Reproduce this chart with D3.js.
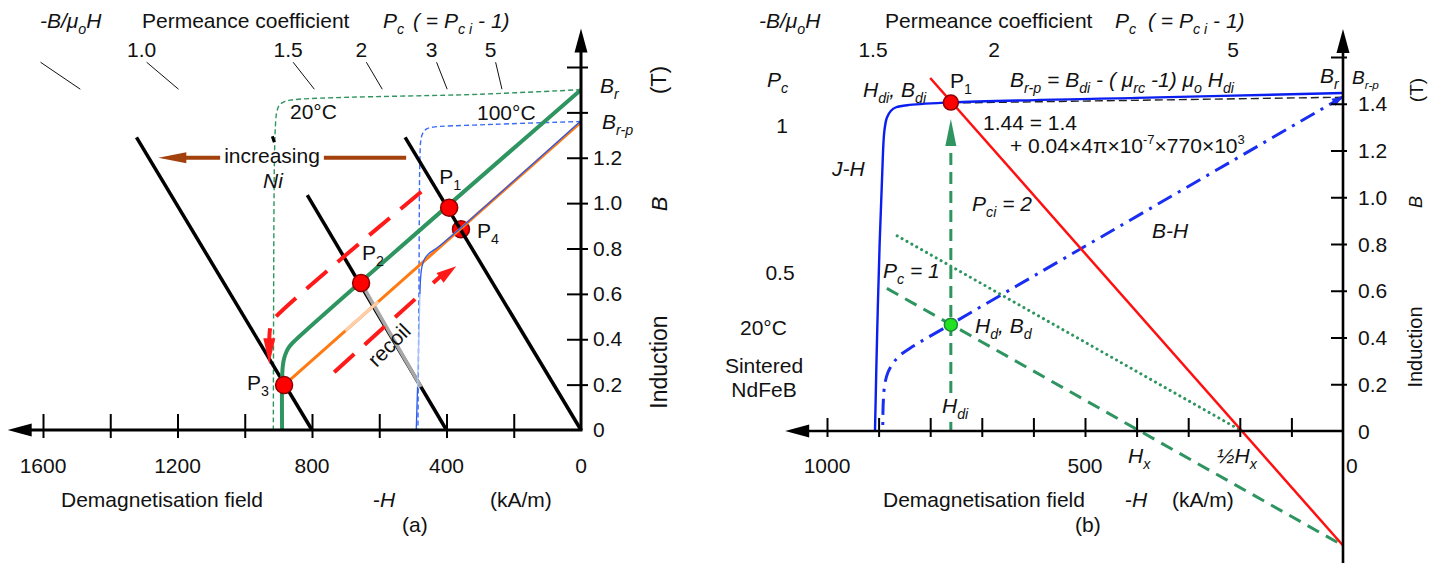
<!DOCTYPE html>
<html>
<head>
<meta charset="utf-8">
<script src="https://cdn.jsdelivr.net/npm/d3@7"></script>
<style>
  body { margin: 0; background: #fff; }
  svg text { font-family: "Liberation Sans", Arial, Helvetica, sans-serif; fill: #111; white-space: pre; }
</style>
</head>
<body>
<svg id="fig" width="1437" height="563"></svg>
<script>
// ---------------- Panel (a): demagnetisation curves, 20 °C and 100 °C ----------------
// all curve points are [ -H (kA/m), B (T) ]
const loadLinesA = [
  [[0, 0], [523, 1.29]],
  [[400, 0], [814, 1.035]],
  [[800, 0], [1322, 1.29]]
];
const recoilGreyA = [[654, 0.648], [476, 0.19]];
const tickMarkA = [[918, 1.295], [912, 1.268]];
const jh20 = [[0, 1.50], [300, 1.48], [865, 1.454], [885, 1.445], [898, 1.43], [905, 1.40], [908, 1.36], [911, 1.25], [913, 1.0], [915, 0]];
const bh20 = [[0, 1.50], [850, 0.395], [866, 0.37], [876, 0.345], [883, 0.315], [887, 0.28], [889, 0.22], [889, 0]];
const jh100 = [[0, 1.36], [300, 1.345], [440, 1.335], [458, 1.328], [470, 1.31], [476, 1.28], [479, 1.2], [482, 0.6], [485, 0]];
const bh100 = [[0, 1.357], [883, 0.198]];
const bh100Pale = [[701, 0.437], [603, 0.566]];
const minorLoopLow = [[490, 0], [486, 0.19]];
const minorLoopPale = [[486, 0.19], [479, 0.6]];
const minorLoopHigh = [[479, 0.6], [477, 0.67], [473, 0.72], [465, 0.755], [452, 0.778], [420, 0.812], [0, 1.363]];
const demagPath = [[475, 1.05], [913, 0.49], [922, 0.465], [926, 0.43], [927, 0.395]];
const demagTip = [927, 0.29];
const recoilPath = [[734, 0.255], [470, 0.608]];
const recoilHead = [[440, 0.648], [371, 0.722]];
const niArrow = [[520, 1.2], [1257, 1.2]];
const pointsA = [
  { name: "1", H: 392, B: 0.98 },
  { name: "2", H: 654, B: 0.648 },
  { name: "3", H: 883, B: 0.198 },
  { name: "4", H: 357, B: 0.885 }
];
const pcValuesA = [0.8, 1.0, 1.5, 2, 3, 5];
const pcLabelsA = ["", "1.0", "1.5", "2", "3", "5"];
const pcFootH = [1489, 1197, 793, 591, 398, 235];
const pcFootB = 1.502;
const pcRise = 0.119;
const xTicksA = [200, 400, 600, 800, 1000, 1200, 1400, 1600];
const xLabelsA = [0, 400, 800, 1200, 1600];
const yTicksA = [0.2, 0.4, 0.6, 0.8, 1.0, 1.2, 1.4, 1.6];
const yLabelsA = ["0", "0.2", "0.4", "0.6", "0.8", "1.0", "1.2"];

// ---------------- Panel (b): sintered NdFeB at 20 °C ----------------
const jhB = [[0, 1.446], [400, 1.425], [758, 1.406], [840, 1.395], [866, 1.385], [876, 1.37], [884, 1.34], [889, 1.28], [893, 1.1], [898, 0.8], [903, 0.4], [907, 0]];
const bhB = [[0, 1.43], [763, 0.453], [835, 0.36], [858, 0.325], [872, 0.29], [882, 0.25], [888, 0.2], [891, 0.12], [892, 0]];
const recoilB = [[760, 1.403], [0, 1.428]];
const pci2Line = [[800, 1.51], [0, -0.49]];
const pc1Line = [[884, 0.61], [0, -0.49]];
const pc1Shifted = [[864, 0.835], [196, 0]];
const Hdi = 760;
const hdiArrow = [[Hdi, 0], [Hdi, 1.22]];
const hdiTip = [Hdi, 1.335];
const P1b = [Hdi, 1.405];
const dPointB = [Hdi, 0.455];
const xTicksB = [100, 200, 300, 400, 500, 600, 700, 800, 900, 1000];
const xLabelsB = [1000, 500];
const yTicksB = [0.2, 0.4, 0.6, 0.8, 1.0, 1.2, 1.4, 1.6];
const yLabelsB = ["0", "0.2", "0.4", "0.6", "0.8", "1.0", "1.2", "1.4"];
const pcLabelsB = ["1.5", "2", "5"];
const pcSideLabelsB = ["1", "0.5"];

// ---------------- scales ----------------
const xA = d3.scaleLinear([0, 1600], [581, 43]);
const yA = d3.scaleLinear([0, 1.6], [430, 67]);
const xB = d3.scaleLinear([0, 1000], [1343, 827]);
const yB = d3.scaleLinear([0, 1.6], [431, 57]);

const svg = d3.select("#fig");
const FS = 21;

function path(g, data, xs, ys, style, curve) {
  const gen = d3.line().x(d => xs(d[0])).y(d => ys(d[1])).curve(curve || d3.curveLinear);
  const p = g.append("path").attr("d", gen(data)).attr("fill", "none");
  Object.entries(style).forEach(([k, v]) => p.attr(k, v));
  return p;
}

function tri(g, from, tip, len, hw, fill) {
  const dx = tip[0] - from[0], dy = tip[1] - from[1];
  const L = Math.hypot(dx, dy), ux = dx / L, uy = dy / L;
  const bx = tip[0] - ux * len, by = tip[1] - uy * len;
  const nx = -uy, ny = ux;
  g.append("path")
    .attr("d", `M${tip[0]},${tip[1]}L${bx + nx * hw},${by + ny * hw}L${bx - nx * hw},${by - ny * hw}Z`)
    .attr("fill", fill);
}

function rich(g, x, y, parts, o = {}) {
  const size = o.size || FS;
  const t = g.append("text").attr("x", x).attr("y", y).attr("font-size", size)
    .attr("text-anchor", o.anchor || "start");
  if (o.italic) t.attr("font-style", "italic");
  if (o.rotate != null) t.attr("transform", `rotate(${o.rotate},${x},${y})`);
  if (o.dy) t.attr("dy", o.dy);
  const subScale = o.subScale || 0.68;
  let shift = 0;
  parts.forEach(p => {
    if (typeof p === "string") p = { t: p };
    const s = t.append("tspan").text(p.t);
    let target = 0, fs = size;
    if (p.sub) { target = size * 0.28; fs = size * subScale; }
    if (p.sup) { target = -size * 0.42; fs = size * 0.62; }
    if (target - shift !== 0) s.attr("dy", target - shift);
    shift = target;
    if (fs !== size) s.attr("font-size", fs);
    if (p.i) s.attr("font-style", "italic");
    if (p.n) s.attr("font-style", "normal");
  });
  return t;
}

function axes(xs, ys, xTicks, yTicks, o) {
  const g = svg.append("g");
  const y0 = ys(0), x0 = xs(0);
  // x ticks (crossing the axis line)
  const gx = g.append("g").attr("transform", `translate(0,${y0})`)
    .call(d3.axisBottom(xs).tickValues(xTicks).tickFormat("").tickSizeInner(o.xDown).tickSizeOuter(0));
  gx.select(".domain").remove();
  gx.selectAll(".tick line").attr("y1", -o.xUp).attr("stroke", "#000").attr("stroke-width", 2);
  // y ticks
  const gy = g.append("g").attr("transform", `translate(${x0},0)`)
    .call(d3.axisRight(ys).tickValues(yTicks).tickFormat("").tickSizeInner(o.yOut).tickSizeOuter(0));
  gy.select(".domain").remove();
  gy.selectAll(".tick line").attr("x1", -o.yIn).attr("stroke", "#000").attr("stroke-width", 2);
  // axis lines with arrow heads
  const xt = xs(o.xTip), yt = ys(o.yTip);
  g.append("line").attr("x1", xt + 20).attr("x2", x0 + o.xExtra).attr("y1", y0).attr("y2", y0)
    .attr("stroke", "#000").attr("stroke-width", o.w);
  g.append("line").attr("x1", x0).attr("x2", x0).attr("y1", ys(o.yBottom)).attr("y2", yt + 20)
    .attr("stroke", "#000").attr("stroke-width", o.w);
  tri(g, [x0 + 10, y0], [xt, y0], 24, 6.5, "#000");
  tri(g, [x0, y0], [x0, yt], 24, 6.5, "#000");
  return g;
}

// white backing behind a label so that lines stop at its edges
function backing(g, t, pad) {
  const b = t.node().getBBox();
  g.insert("rect", () => t.node()).attr("x", b.x - pad).attr("y", b.y + 2).attr("width", b.width + 2 * pad)
    .attr("height", b.height - 2).attr("fill", "#fff");
}

// =============== Panel (a) ===============
const gA = svg.append("g");
axes(xA, yA, xTicksA, yTicksA, { xUp: 16, xDown: 8, yIn: 14, yOut: 7, xTip: 1705, yTip: 1.77, w: 3, yBottom: 0, xExtra: 1.5 });

// intrinsic (J-H) curves, thin dashed
path(gA, jh20, xA, yA, { stroke: "#2e9560", "stroke-width": 1.4, "stroke-dasharray": "5,3" }, d3.curveCatmullRom.alpha(0.5));
path(gA, jh100, xA, yA, { stroke: "#3a6cf4", "stroke-width": 1.4, "stroke-dasharray": "5,3" }, d3.curveCatmullRom.alpha(0.5));

// P4 sits under the load line
const pA4 = pointsA[3];
gA.append("circle").attr("cx", xA(pA4.H)).attr("cy", yA(pA4.B)).attr("r", 8.5)
  .attr("fill", "#f00").attr("stroke", "#8b0000").attr("stroke-width", 1.5);

// load lines
loadLinesA.forEach(d => path(gA, d, xA, yA, { stroke: "#000", "stroke-width": 3.5 }));
path(gA, tickMarkA, xA, yA, { stroke: "#000", "stroke-width": 3 });
path(gA, recoilGreyA, xA, yA, { stroke: "#a8a8a8", "stroke-width": 3.6 });

// normal (B-H) curves
path(gA, bh20, xA, yA, { stroke: "#2e9560", "stroke-width": 4 }, d3.curveCatmullRom.alpha(0.5));
path(gA, bh100, xA, yA, { stroke: "#ff7a12", "stroke-width": 3 });
path(gA, bh100Pale, xA, yA, { stroke: "#ffcfab", "stroke-width": 3 });
path(gA, minorLoopLow, xA, yA, { stroke: "#2a5cf0", "stroke-width": 1.3 });
path(gA, minorLoopPale, xA, yA, { stroke: "#a9c3f7", "stroke-width": 1.3 });
path(gA, minorLoopHigh, xA, yA, { stroke: "#2a5cf0", "stroke-width": 1.3 }, d3.curveCatmullRom.alpha(0.5));

// demagnetising and recoil arrows
path(gA, demagPath, xA, yA, { stroke: "#ff1a1a", "stroke-width": 4, "stroke-dasharray": "27,14" }, d3.curveCatmullRom.alpha(0.5));
tri(gA, [xA(demagPath[4][0]), yA(demagPath[4][1])], [xA(demagTip[0]), yA(demagTip[1])], 26, 6, "#ff1a1a");
path(gA, recoilPath, xA, yA, { stroke: "#ff1a1a", "stroke-width": 4, "stroke-dasharray": "27,14" });
path(gA, [recoilHead[0], [recoilHead[0][0] - 25, recoilHead[0][1] + 0.033]], xA, yA, { stroke: "#ff1a1a", "stroke-width": 4 });
tri(gA, [xA(recoilHead[0][0]), yA(recoilHead[0][1])], [xA(recoilHead[1][0]), yA(recoilHead[1][1])], 20, 6, "#ff1a1a");

// "increasing Ni" arrow
const niY = yA(niArrow[0][1]);
gA.append("line").attr("x1", xA(niArrow[0][0])).attr("x2", xA(niArrow[1][0]) + 22)
  .attr("y1", niY).attr("y2", niY).attr("stroke", "#a3410d").attr("stroke-width", 4);
tri(gA, [xA(niArrow[0][0]), niY], [xA(niArrow[1][0]), niY], 28, 5.5, "#a3410d");
const incT = rich(gA, 272, 163, ["increasing"], { anchor: "middle" });
const bb = incT.node().getBBox();
gA.insert("rect", "text").attr("x", bb.x - 4).attr("y", niY - 4).attr("width", bb.width + 8).attr("height", 8).attr("fill", "#fff");
rich(gA, 263, 188, ["Ni"], { italic: true });

// operating points
pointsA.slice(0, 3).forEach(p => {
  gA.append("circle").attr("cx", xA(p.H)).attr("cy", yA(p.B)).attr("r", 8.5)
    .attr("fill", "#f00").attr("stroke", "#8b0000").attr("stroke-width", 1.5);
});
const pLabelOffsets = [[-10, -24], [1, -23], [-37, 5], [16, 9]];
pointsA.forEach((p, i) => {
  rich(gA, xA(p.H) + pLabelOffsets[i][0], yA(p.B) + pLabelOffsets[i][1], ["P", { t: p.name, sub: 1 }]);
});
rich(gA, 389, 345, ["recoil"], { anchor: "middle", rotate: -45, dy: "0.35em" });
rich(gA, 290, 119, ["20°C"]);
rich(gA, 477, 120, ["100°C"]);

// permeance-coefficient slope indicators along the top
pcValuesA.forEach((pc, i) => {
  const h0 = pcFootH[i];
  const h1 = h0 + pcRise / (pc * 4 * Math.PI * 1e-7 * 1e3);
  gA.append("line").attr("x1", xA(h0)).attr("y1", yA(pcFootB)).attr("x2", xA(h1)).attr("y2", yA(pcFootB + pcRise))
    .attr("stroke", "#111").attr("stroke-width", 1);
  if (pcLabelsA[i]) rich(gA, xA(h1) - 5, 57, [pcLabelsA[i]], { anchor: "middle" });
});
rich(gA, 40, 28, ["-B/μ", { t: "o", sub: 1 }, "H"], { italic: true });
rich(gA, 142, 28, ["Permeance coefficient"]);
rich(gA, 383, 28, ["P", { t: "c", sub: 1 }], { italic: true });
rich(gA, 413, 28, ["( = P", { t: "c i", sub: 1 }, " - 1)"], { italic: true });

// axis labels
xLabelsA.forEach(v => rich(gA, xA(v), 473, [String(v)], { anchor: "middle" }));
yLabelsA.forEach((s, i) => rich(gA, 593, yA(i * 0.2) + 7, [s]));
rich(gA, 600, 93, ["B", { t: "r", sub: 1 }], { italic: true });
rich(gA, 602, 129, ["B", { t: "r-p", sub: 1 }], { italic: true });
rich(gA, 666, 80, ["(T)"], { anchor: "middle", rotate: -90, size: 22 });
rich(gA, 667, 204, ["B"], { anchor: "middle", rotate: -90, size: 22, italic: true });
rich(gA, 667, 362, ["Induction"], { anchor: "middle", rotate: -90, size: 23 });
rich(gA, 61, 507, ["Demagnetisation field"]);
rich(gA, 373, 507, ["-", { t: "H", i: 1 }]);
rich(gA, 490, 507, ["(kA/m)"]);
rich(gA, 402, 532, ["(a)"]);

// =============== Panel (b) ===============
const gB = svg.append("g");
axes(xB, yB, xTicksB, yTicksB, { xUp: 13, xDown: 6, yIn: 12, yOut: 4, xTip: 1081, yTip: 1.72, w: 2.6, yBottom: -0.57, xExtra: 0 });

path(gB, recoilB, xB, yB, { stroke: "#222", "stroke-width": 1.4, "stroke-dasharray": "8,4" });
path(gB, jhB, xB, yB, { stroke: "#0a1ef0", "stroke-width": 2.4 }, d3.curveCatmullRom.alpha(0.5));
path(gB, bhB, xB, yB, { stroke: "#1a2ef2", "stroke-width": 3, "stroke-dasharray": "16,7,3,7" }, d3.curveCatmullRom.alpha(0.5));
tri(gB, [xB(bhB[1][0]), yB(bhB[1][1])], [xB(bhB[0][0]), yB(bhB[0][1])], 11, 4, "#1a2ef2");
path(gB, pc1Shifted, xB, yB, { stroke: "#2e9560", "stroke-width": 3, "stroke-dasharray": "0.1,5.5", "stroke-linecap": "round" });
path(gB, pc1Line, xB, yB, { stroke: "#2e9560", "stroke-width": 3, "stroke-dasharray": "13,8" });
path(gB, pci2Line, xB, yB, { stroke: "#ff1010", "stroke-width": 2.5 });
path(gB, hdiArrow, xB, yB, { stroke: "#2e9560", "stroke-width": 3, "stroke-dasharray": "12,7" });
tri(gB, [xB(Hdi), yB(0)], [xB(hdiTip[0]), yB(hdiTip[1])], 27, 5.5, "#2e9560");
gB.append("circle").attr("cx", xB(P1b[0])).attr("cy", yB(P1b[1])).attr("r", 7.5)
  .attr("fill", "#f00").attr("stroke", "#8b0000").attr("stroke-width", 1.5);
gB.append("circle").attr("cx", xB(dPointB[0])).attr("cy", yB(dPointB[1])).attr("r", 6.5)
  .attr("fill", "#22e022").attr("stroke", "#1a8a3a").attr("stroke-width", 1.5);

// texts
rich(gB, 759, 28, ["-B/μ", { t: "o", sub: 1 }, "H"], { italic: true });
rich(gB, 885, 28, ["Permeance coefficient"]);
rich(gB, 1115, 28, ["P", { t: "c", sub: 1 }], { italic: true });
rich(gB, 1148, 28, ["( = P", { t: "c i", sub: 1 }, " - 1)"], { italic: true });
[873, 994, 1233].forEach((x, i) => rich(gB, x, 57, [pcLabelsB[i]], { anchor: "middle" }));
rich(gB, 767, 87, ["P", { t: "c", sub: 1 }], { italic: true });
rich(gB, 782, 133, [pcSideLabelsB[0]], { anchor: "middle" });
rich(gB, 780, 280, [pcSideLabelsB[1]], { anchor: "middle" });
rich(gB, 740, 335, ["20°C"]);
rich(gB, 764, 373, ["Sintered"], { anchor: "middle" });
rich(gB, 764, 397, ["NdFeB"], { anchor: "middle" });
rich(gB, 863, 97, ["H", { t: "di", sub: 1 }, ", B", { t: "di", sub: 1 }], { italic: true });
rich(gB, 950, 88, ["P", { t: "1", sub: 1 }]);
rich(gB, 1010, 87, ["B", { t: "r-p", sub: 1 }, " = B", { t: "di", sub: 1 }, " - ( μ", { t: "rc", sub: 1 }, " -1) μ", { t: "o", sub: 1 }, " H", { t: "di", sub: 1 }], { italic: true });
rich(gB, 983, 130, ["1.44 = 1.4"]);
rich(gB, 1010, 153, ["+ 0.04×4π×10", { t: "-7", sup: 1 }, "×770×10", { t: "3", sup: 1 }]);
rich(gB, 832, 176, ["J-H"], { italic: true });
rich(gB, 972, 211, ["P", { t: "ci", sub: 1 }, " = 2"], { italic: true });
rich(gB, 1152, 238, ["B-H"], { italic: true });
rich(gB, 883, 278, ["P", { t: "c", sub: 1 }, " = 1"], { italic: true });
rich(gB, 975, 333, ["H", { t: "d", sub: 1 }, ", B", { t: "d", sub: 1 }], { italic: true });
const hdiLabel = rich(gB, 942, 413, ["H", { t: "di", sub: 1 }], { italic: true });
backing(gB, hdiLabel, 1);
rich(gB, 1128, 463, ["H", { t: "x", sub: 1 }], { italic: true });
rich(gB, 1217, 463, ["½H", { t: "x", sub: 1 }], { italic: true });
rich(gB, 1320, 83, ["B", { t: "r", sub: 1 }], { italic: true });
rich(gB, 1352, 84, ["B", { t: "r-p", sub: 1 }], { italic: true, size: 19, subScale: 0.62 });

xLabelsB.forEach(v => rich(gB, xB(v), 473, [String(v)], { anchor: "middle" }));
rich(gB, 1346, 473, ["0"]);
yLabelsB.forEach((s, i) => rich(gB, 1358, yB(i * 0.2) + 7.5, [s]));
rich(gB, 1423, 90, ["(T)"], { anchor: "middle", rotate: -90, size: 19 });
rich(gB, 1422, 202, ["B"], { anchor: "middle", rotate: -90, size: 18, italic: true });
rich(gB, 1422, 347, ["Induction"], { anchor: "middle", rotate: -90, size: 20 });
rich(gB, 883, 507, ["Demagnetisation field"]);
rich(gB, 1125, 507, ["-", { t: "H", i: 1 }]);
rich(gB, 1172, 507, ["(kA/m)"]);
rich(gB, 1075, 532, ["(b)"]);
</script>
</body>
</html>
